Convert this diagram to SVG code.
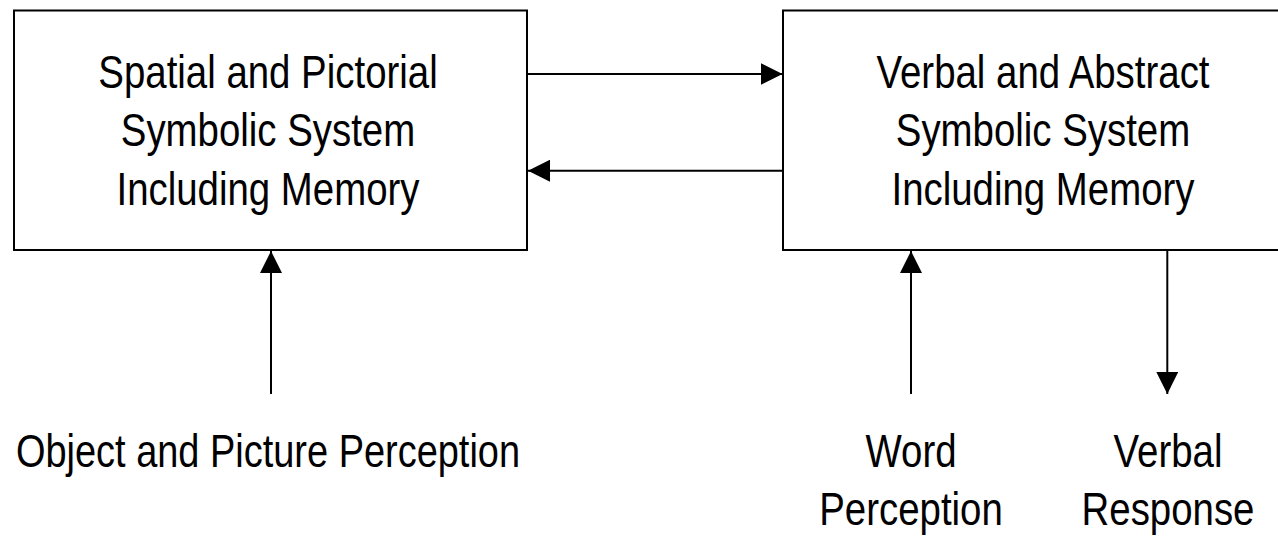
<svg xmlns="http://www.w3.org/2000/svg" width="1278" height="536" viewBox="0 0 1278 536">
<style>
.box{fill:#fff;stroke:#000;stroke-width:2}
.ln{stroke:#000;stroke-width:2;fill:none;marker-end:url(#ah)}
text{font-family:"Liberation Sans",Arial,sans-serif;font-size:46px;fill:#000;text-anchor:middle}
</style>
<defs>
<marker id="ah" markerUnits="userSpaceOnUse" markerWidth="22" markerHeight="22" viewBox="0 0 20 20" refX="20" refY="10" orient="auto">
<path d="M0,0 L20,10 L0,20 Z" fill="#000"/>
</marker>
</defs>
<rect width="1278" height="536" fill="#fff"/>
<g id="spatial">
<rect class="box" x="14" y="10.5" width="513" height="239.5"/>
<g transform="translate(268,0) scale(0.835,1)">
<text x="0" y="88">Spatial and Pictorial</text>
<text x="0" y="146.5">Symbolic System</text>
<text x="0" y="205">Including Memory</text>
</g>
</g>
<g id="verbal">
<rect class="box" x="783" y="10.5" width="514" height="239.5"/>
<g transform="translate(1043,0) scale(0.835,1)">
<text x="0" y="88">Verbal and Abstract</text>
<text x="0" y="146.5">Symbolic System</text>
<text x="0" y="205">Including Memory</text>
</g>
</g>
<g id="object-perception">
<g transform="translate(268,0) scale(0.825,1)"><text x="0" y="467">Object and Picture Perception</text></g>
</g>
<g id="word-perception">
<g transform="translate(911,0) scale(0.835,1)"><text x="0" y="467">Word</text><text x="0" y="525.5">Perception</text></g>
</g>
<g id="verbal-response">
<g transform="translate(1168,0) scale(0.835,1)"><text x="0" y="467">Verbal</text><text x="0" y="525.5">Response</text></g>
</g>
<g id="connectors">
<line class="ln" x1="527" y1="74" x2="782.5" y2="74"/>
<line class="ln" x1="783" y1="170.7" x2="528" y2="170.7"/>
<line class="ln" x1="271" y1="394" x2="271" y2="251"/>
<line class="ln" x1="911" y1="394" x2="911" y2="251"/>
<line class="ln" x1="1167.3" y1="250" x2="1167.3" y2="394"/>
</g>
</svg>
